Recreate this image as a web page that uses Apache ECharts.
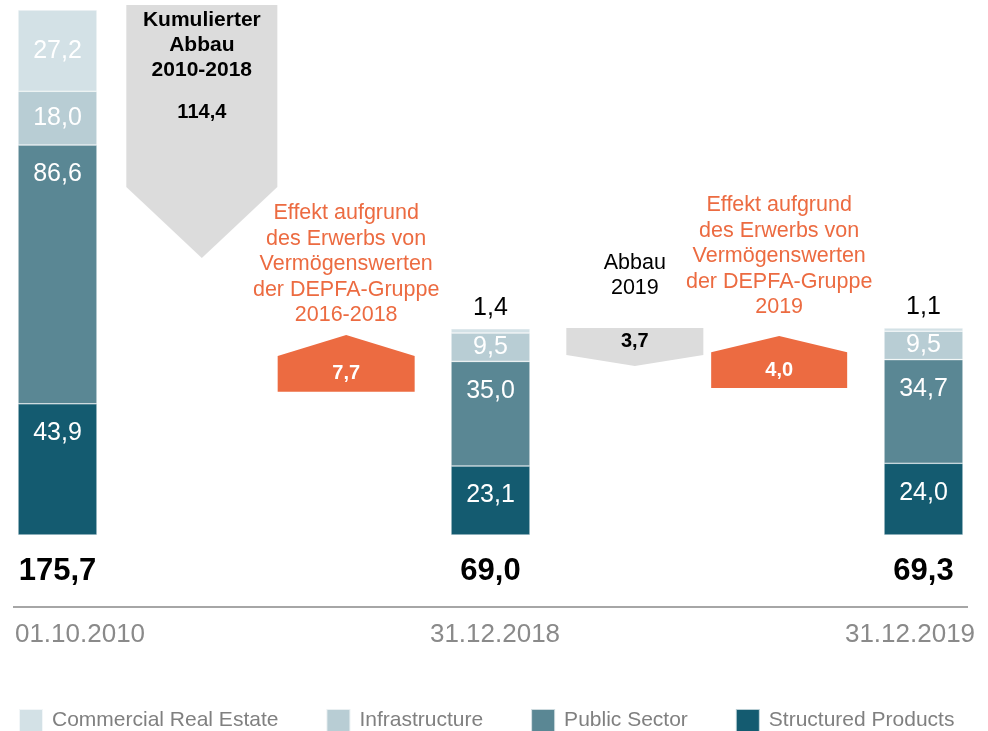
<!DOCTYPE html>
<html>
<head>
<meta charset="utf-8">
<script src="https://cdn.jsdelivr.net/npm/echarts@6/dist/echarts.min.js"></script>
<style>
html,body{margin:0;padding:0;background:#fff;}
#chart{width:988px;height:731px;}
</style>
</head>
<body>
<div id="chart"></div>
<script>
// ---- data ----
const categories = ['01.10.2010', 'Abbau 2010-2018', 'Effekt 2016-2018', '31.12.2018', 'Abbau 2019', 'Effekt 2019', '31.12.2019'];
const dateLabels = ['01.10.2010', '', '', '31.12.2018', '', '', '31.12.2019'];
const structuredProducts   = [43.9, null, null, 23.1, null, null, 24.0];
const publicSector         = [86.6, null, null, 35.0, null, null, 34.7];
const infrastructure       = [18.0, null, null,  9.5, null, null,  9.5];
const commercialRealEstate = [27.2, null, null,  1.4, null, null,  1.1];
const totals               = [175.7, null, null, 69.0, null, null, 69.3];

const arrowSlots    = [1, 2, 4, 5];
const arrowValues   = [114.4, 7.7, 3.7, 4.0];
const arrowStart    = [177.4, 47.9, 69.3, 49.2];
const arrowShoulder = [116.5, 59.9, 60.2, 61.2];
const arrowEnd      = [92.7, 66.9, 56.6, 66.6];
const arrowNotes = [
  'Kumulierter\nAbbau\n2010-2018',
  'Effekt aufgrund\ndes Erwerbs von\nVermögenswerten\nder DEPFA-Gruppe\n2016-2018',
  'Abbau\n2019',
  'Effekt aufgrund\ndes Erwerbs von\nVermögenswerten\nder DEPFA-Gruppe\n2019'
];

// ---- styles ----
const FONT = '"Liberation Sans", Arial, sans-serif';
const colors = {
  cre: '#d3e1e6', infra: '#b8cdd4', pub: '#5a8794', struct: '#145b70',
  orange: '#ec6b41', grey: '#dcdcdc'
};
const arrowLayout = [
  { w: 151, inside: true, noteDy: 3, valueDy: 108 },
  { w: 137, noteGap: 7 },
  { w: 137, noteGap: 27 },
  { w: 136, noteGap: 16 }
];
const fmt = v => v.toFixed(1).replace('.', ',');

function barSeries(name, data, color) {
  return {
    name, type: 'bar', stack: 'total', data, barWidth: 79,
    itemStyle: { color, borderColor: 'rgba(255,255,255,0.7)', borderWidth: 0.6 },
    label: {
      show: true, color: '#fff', fontSize: 25, fontFamily: FONT,
      formatter: p => p.value == null ? '' : fmt(p.value),
      position: 'inside'
    }
  };
}

const sStruct = barSeries('Structured Products', structuredProducts, colors.struct);
const sPub = barSeries('Public Sector', publicSector, colors.pub);
const sInfra = barSeries('Infrastructure', infrastructure, colors.infra);
const sCre = barSeries('Commercial Real Estate', commercialRealEstate, colors.cre);

// label placement rules
[sStruct, sPub].forEach(s => {
  s.data = s.data.map(v => v == null ? null : { value: v, label: { position: 'insideTop', distance: 17 } });
});
sCre.data = sCre.data.map(v => {
  if (v == null) return null;
  if (v < 5) return { value: v, label: { position: 'top', distance: 8, color: '#000', fontSize: 25 } };
  return v;
});

const arrowData = arrowSlots.map((s, i) => [s, arrowStart[i], arrowShoulder[i], arrowEnd[i], arrowValues[i]]);

function renderArrow(params, api) {
  const i = params.dataIndex;
  const L = arrowLayout[i];
  const slot = api.value(0);
  const x = api.coord([slot, 0])[0];
  const yS = api.coord([slot, api.value(1)])[1];
  const yM = api.coord([slot, api.value(2)])[1];
  const yE = api.coord([slot, api.value(3)])[1];
  const up = api.value(3) > api.value(1);
  const hw = L.w / 2;
  const children = [{
    type: 'polygon',
    shape: { points: [[x - hw, yS], [x + hw, yS], [x + hw, yM], [x, yE], [x - hw, yM]] },
    style: { fill: up ? colors.orange : colors.grey }
  }];
  const top = Math.min(yS, yE);
  const valueY = L.inside ? top + L.valueDy : (yS + yM) / 2;
  children.push({
    type: 'text', x: x, y: valueY,
    style: {
      text: fmt(api.value(4)), fill: up ? '#fff' : '#000',
      fontSize: 20, fontWeight: 'bold', fontFamily: FONT,
      align: 'center', verticalAlign: 'middle'
    }
  });
  if (L.inside) {
    children.push({
      type: 'text', x: x, y: top + L.noteDy,
      style: {
        text: arrowNotes[i], fill: '#000', fontSize: 21, fontWeight: 'bold',
        fontFamily: FONT, align: 'center', verticalAlign: 'top', lineHeight: 25
      }
    });
  } else {
    children.push({
      type: 'text', x: x, y: top - L.noteGap,
      style: {
        text: arrowNotes[i], fill: up ? colors.orange : '#000', fontSize: 21.5,
        fontFamily: FONT, align: 'center', verticalAlign: 'bottom', lineHeight: 25.5
      }
    });
  }
  return { type: 'group', children };
}

const chart = echarts.init(document.getElementById('chart'));
chart.setOption({
  animation: false,
  backgroundColor: '#fff',
  textStyle: { fontFamily: FONT },
  grid: [
    { left: 57.5, right: 64.5, top: 10, bottom: 196, containLabel: false },
    { left: 80, right: 78, top: 10, bottom: 124, containLabel: false }
  ],
  xAxis: [
    {
      type: 'category', data: categories, gridIndex: 0, boundaryGap: false,
      axisLine: { show: false }, axisTick: { show: false }, splitLine: { show: false },
      axisLabel: {
        interval: 0, margin: 21, fontSize: 31, fontWeight: 'bold', color: '#000', fontFamily: FONT,
        formatter: (v, idx) => totals[idx] == null ? '' : fmt(totals[idx])
      }
    },
    {
      type: 'category', data: categories, gridIndex: 1, boundaryGap: false,
      axisLine: { show: false }, axisTick: { show: false }, splitLine: { show: false },
      axisLabel: {
        interval: 0, margin: 15, fontSize: 26, color: '#8a8a8a', fontFamily: FONT,
        formatter: (v, idx) => dateLabels[idx]
      }
    }
  ],
  yAxis: [
    { type: 'value', gridIndex: 0, min: 0, max: 175.7, show: false },
    { type: 'value', gridIndex: 1, min: 0, max: 1, show: false }
  ],
  legend: {
    data: ['Commercial Real Estate', 'Infrastructure', 'Public Sector', 'Structured Products'],
    left: 18, top: 708, padding: 0,
    icon: 'rect', itemWidth: 24, itemHeight: 23, itemGap: 47,
    textStyle: { fontSize: 21, color: '#808080', fontFamily: FONT, padding: [0, 0, 0, 4] }
  },
  graphic: [{
    type: 'line', shape: { x1: 13, y1: 607, x2: 968, y2: 607 },
    style: { stroke: '#a6a6a6', lineWidth: 2 }, silent: true
  }],
  series: [
    sStruct, sPub, sInfra, sCre,
    {
      type: 'custom', name: 'arrows', xAxisIndex: 0, yAxisIndex: 0,
      data: arrowData, renderItem: renderArrow, clip: false,
      encode: { x: 0, y: [1, 2, 3] }, z: 3
    }
  ]
});
</script>
</body>
</html>
